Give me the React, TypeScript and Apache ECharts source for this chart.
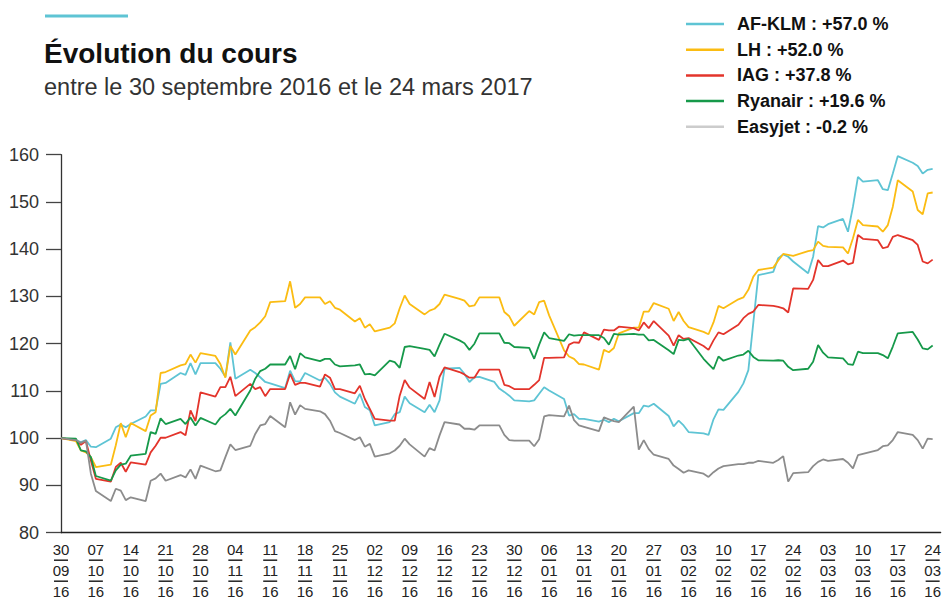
import React, { useEffect, useRef } from 'react';
import * as echarts from 'echarts';

const FONT = '"Liberation Sans", Arial, Helvetica, sans-serif';
const NARROW = '"Liberation Sans Narrow", "Arial Narrow", "Liberation Sans", Arial, sans-serif';

const seriesNames = ['AF-KLM', 'LH', 'IAG', 'Ryanair', 'Easyjet'];
const legendChanges = ['+57.0', '+52.0', '+37.8', '+19.6', '-0.2'];
const lineColors = ['#5ec4d4', '#fbbc12', '#e3342b', '#16994a', '#8c8c8c'];
const legendColors = ['#5ec4d4', '#fbbc12', '#e3342b', '#16994a', '#cccccc'];

const tickDays = ['30', '07', '14', '21', '28', '04', '11', '18', '25', '02', '09', '16', '23', '30', '06', '13', '20', '27', '03', '10', '17', '24', '03', '10', '17', '24'];
const tickMonths = ['09', '10', '10', '10', '10', '11', '11', '11', '11', '12', '12', '12', '12', '12', '01', '01', '01', '01', '02', '02', '02', '02', '03', '03', '03', '03'];
const tickYears = ['16', '16', '16', '16', '16', '16', '16', '16', '16', '16', '16', '16', '16', '16', '16', '16', '16', '16', '16', '16', '16', '16', '16', '16', '16', '16'];

// Index base 100 on 30/09/2016, one value per trading day (Fri 30/09 then Mon..Fri each week)
const afklm = [
  100,
  99.6, 99.2, 99.6, 98.2, 98.1,
  99.9, 102.3, 102.9, 102.3, 103.0,
  104.6, 105.9, 105.9, 111.5, 111.7,
  113.8, 113.4, 115.9, 113.5, 115.9,
  115.9, 114.7, 113.0, 120.3, 112.6,
  114.5, 113.8, 112.9, 111.9, 111.6,
  110.6, 114.3, 112.1, 112.0, 113.8,
  112.2, 112.8, 111.5, 109.7, 108.8,
  107.3, 109.4, 106.6, 105.9, 102.7,
  103.4, 105.1, 105.5, 108.8, 107.4,
  105.5, 107.1, 105.5, 108.0, 114.7,
  114.9, 113.6, 111.9, 112.9, 113.0,
  111.9, 110.5, 109.8, 109.0, 108.0,
  107.8, 108.0, 109.4, 110.8, 110.1,
  108.3, 104.8, 105.1, 104.1, 104.1,
  103.5, 103.9, 103.4, 104.1, 103.6,
  105.3, 105.3, 106.9, 106.7, 107.3,
  104.7, 102.5, 103.7, 102.7, 101.3,
  101.0, 100.7, 104.0, 106.1, 106.0,
  109.8, 111.6, 114.4, 124.5, 134.5,
  135.2, 138.1, 138.9, 138.4, 137.4,
  134.9, 138.4, 144.9, 144.6, 145.3,
  146.4, 143.7, 149.0, 155.3, 154.3,
  154.6, 152.7, 152.5, 156.0, 159.7,
  158.3, 157.6, 156.0, 156.8, 157.0,
];

const lh = [
  100,
  99.4, 97.4, 97.0, 96.0, 93.9,
  94.4, 98.5, 103.2, 100.2, 103.2,
  101.5, 104.8, 105.5, 113.8, 114.0,
  115.4, 115.7, 117.7, 116.0, 118.0,
  117.4, 115.7, 112.8, 119.5, 117.7,
  122.8, 123.5, 124.5, 125.8, 128.8,
  129.0, 133.2, 127.6, 128.4, 129.8,
  129.8, 128.4, 129.0, 127.6, 127.2,
  124.7, 125.4, 123.4, 124.1, 122.6,
  123.4, 124.3, 127.5, 130.2, 128.4,
  126.2, 127.0, 127.4, 128.4, 130.4,
  129.5, 129.1, 127.9, 128.1, 129.8,
  129.8, 129.8, 126.7, 125.8, 123.8,
  126.9, 126.2, 128.8, 129.1, 126.0,
  118.6, 117.3, 116.8, 115.7, 115.6,
  114.5, 118.7, 118.2, 119.1, 122.2,
  123.4, 123.4, 126.8, 126.8, 128.6,
  127.4, 124.8, 126.7, 124.8, 123.5,
  122.5, 122.0, 124.5, 128.0, 127.5,
  129.4, 129.8, 131.4, 134.2, 135.6,
  136.1, 137.6, 139.0, 138.8, 138.6,
  139.6, 139.8, 141.6, 140.7, 140.5,
  140.4, 139.1, 142.3, 146.2, 145.1,
  144.8, 143.7, 145.1, 149.0, 154.6,
  152.2, 148.3, 147.4, 151.8, 152.0,
];

const iag = [
  100,
  99.6, 98.6, 99.4, 95.3, 91.4,
  90.8, 93.9, 94.8, 92.9, 94.9,
  94.4, 97.0, 98.4, 100.1, 100.1,
  101.3, 100.6, 105.9, 103.6, 109.7,
  108.8, 110.8, 110.8, 113.0, 108.9,
  111.5, 110.4, 110.8, 108.9, 110.4,
  110.4, 113.6, 111.3, 111.7, 111.7,
  110.9, 113.5, 112.8, 110.4, 110.4,
  109.5, 111.1, 108.3, 106.2, 104.1,
  103.7, 103.7, 109.0, 112.3, 110.7,
  108.3, 111.9, 108.7, 113.0, 115.0,
  114.0, 113.5, 112.8, 112.8, 114.5,
  114.5, 114.5, 111.3, 111.0, 110.4,
  110.4, 111.3, 112.3, 117.0, 117.0,
  117.1, 119.8, 120.3, 120.2, 122.4,
  120.8, 123.0, 122.8, 122.8, 123.6,
  123.3, 122.8, 124.5, 123.3, 124.8,
  121.7, 119.6, 121.8, 121.0, 121.2,
  119.5, 118.7, 120.7, 122.4, 122.0,
  124.0, 125.4, 126.3, 126.8, 128.2,
  128.0, 127.8, 127.5, 126.6, 131.7,
  131.6, 133.5, 137.7, 136.4, 136.4,
  137.6, 136.8, 137.1, 143.0, 142.2,
  141.9, 140.2, 140.5, 142.6, 143.0,
  141.9, 140.9, 137.4, 137.0, 137.8,
];

const ryanair = [
  100,
  99.9, 97.4, 97.2, 96.0, 92.0,
  91.0, 93.2, 94.4, 94.6, 96.3,
  96.7, 101.3, 100.9, 104.2, 103.0,
  104.1, 103.0, 104.4, 102.7, 104.3,
  102.9, 104.3, 105.1, 106.2, 104.8,
  110.1, 112.6, 114.2, 114.7, 115.6,
  115.6, 117.4, 114.6, 118.0, 117.1,
  116.3, 116.8, 116.8, 115.6, 115.2,
  115.4, 115.6, 113.5, 113.6, 113.3,
  116.4, 116.1, 114.9, 119.3, 119.5,
  118.9, 118.7, 117.3, 119.8, 122.1,
  120.7, 120.1, 118.7, 120.0, 122.2,
  122.2, 122.2, 120.2, 120.1, 119.3,
  119.1, 116.8, 119.8, 122.4, 121.2,
  120.6, 122.0, 121.7, 121.8, 121.8,
  121.8, 121.2, 119.8, 122.1, 121.9,
  122.1, 121.9, 121.9, 120.7, 120.8,
  118.6, 117.8, 120.8, 120.7, 121.0,
  116.8, 115.7, 114.6, 117.3, 116.4,
  117.5, 117.7, 118.5, 117.2, 116.5,
  116.4, 116.5, 116.4, 115.1, 114.4,
  114.7, 116.2, 119.7, 118.1, 117.1,
  116.9, 115.7, 115.5, 118.3, 118.0,
  118.0, 117.6, 116.9, 119.4, 122.2,
  122.5, 120.9, 119.0, 118.8, 119.6,
];

const easyjet = [
  100,
  99.6, 99.0, 99.5, 92.5, 88.8,
  86.7, 89.3, 88.9, 86.9, 87.5,
  86.7, 91.0, 91.5, 92.5, 91.0,
  92.2, 91.7, 93.4, 91.4, 94.2,
  93.0, 93.2, 96.0, 98.7, 97.5,
  98.4, 100.9, 102.7, 103.0, 104.7,
  102.3, 107.6, 105.0, 107.0, 106.2,
  105.7, 105.1, 103.7, 101.5, 101.1,
  99.6, 100.2, 98.2, 98.8, 96.1,
  96.8, 97.4, 98.4, 99.9, 98.7,
  96.1, 97.9, 97.4, 100.6, 103.4,
  102.9, 102.0, 102.0, 101.8, 102.7,
  102.7, 102.7, 100.7, 99.6, 99.5,
  99.5, 98.3, 99.8, 104.6, 104.9,
  104.6, 106.9, 103.8, 102.7, 102.4,
  101.5, 104.4, 104.0, 103.6, 103.4,
  106.7, 97.6, 99.6, 97.7, 96.5,
  95.6, 94.2, 93.5, 92.7, 93.2,
  92.5, 91.8, 92.8, 93.6, 94.1,
  94.5, 94.5, 94.8, 94.8, 95.2,
  94.8, 95.4, 96.2, 90.8, 92.6,
  92.8, 94.1, 95.0, 95.5, 95.2,
  95.6, 94.8, 93.6, 96.4, 96.7,
  97.5, 98.3, 98.5, 99.6, 101.3,
  100.7, 99.6, 97.8, 99.9, 99.8,
];

const seriesValues = [afklm, lh, iag, ryanair, easyjet];

// Calendar: days since Friday 30/09/2016, keeping weekdays only (d % 7: 0 = Fri, 1 = Sat, 2 = Sun)
const LAST_DAY = 175;
function tradingDays(): number[] {
  const out: number[] = [];
  for (let d = 0; d <= LAST_DAY; d++) {
    const wd = d % 7;
    if (wd !== 1 && wd !== 2) out.push(d);
  }
  return out;
}

export default function App() {
  const ref = useRef<HTMLDivElement>(null);

  useEffect(() => {
    document.body.style.margin = '0';
    if (!ref.current) return;
    const chart = echarts.init(ref.current, undefined, { renderer: 'svg' });
    const days = tradingDays();

    const option: any = {
      animation: false,
      backgroundColor: '#ffffff',
      title: {
        text: 'Évolution du cours',
        subtext: 'entre le 30 septembre 2016 et le 24 mars 2017',
        left: 44,
        top: 39,
        padding: 0,
        itemGap: 8,
        textStyle: { fontSize: 28, fontWeight: 'bold', color: '#111111', fontFamily: FONT },
        subtextStyle: { fontSize: 23.5, color: '#333333', fontFamily: FONT },
      },
      graphic: [
        { type: 'rect', left: 45, top: 14.5, shape: { width: 83, height: 3 }, style: { fill: '#5ec4d4' } },
      ],
      legend: {
        orient: 'vertical',
        left: 686,
        top: 14,
        padding: 0,
        icon: 'rect',
        itemWidth: 38,
        itemHeight: 2.5,
        itemGap: 5.7,
        selectedMode: false,
        data: seriesNames,
        formatter: (name: string) => `${name} : ${legendChanges[seriesNames.indexOf(name)]} %`,
        textStyle: {
          fontSize: 18,
          fontWeight: 'bold',
          color: '#111111',
          fontFamily: FONT,
          lineHeight: 20,
          padding: [0, 0, 0, 8],
        },
      },
      grid: { left: 61, right: 0, top: 154.7, bottom: 67.3, containLabel: false },
      xAxis: {
        type: 'value',
        min: 0,
        max: 176.6,
        interval: 7,
        axisLine: { show: true, onZero: false, lineStyle: { color: '#222222', width: 1.3 } },
        axisTick: { show: false },
        splitLine: { show: false },
        axisLabel: {
          margin: 9,
          showMaxLabel: false,
          formatter: (v: number) => {
            const i = Math.round(v / 7);
            if (Math.abs(v - i * 7) > 1e-6 || i < 0 || i >= tickDays.length) return '';
            return `{n|${tickDays[i]}}\n{u|}\n{n|${tickMonths[i]}}\n{u|}\n{n|${tickYears[i]}}`;
          },
          rich: {
            n: { fontSize: 15, lineHeight: 16, color: '#222222', fontFamily: NARROW, align: 'center' },
            u: { width: 14, height: 1.5, lineHeight: 5, backgroundColor: '#222222', align: 'center' },
          },
        },
      },
      yAxis: {
        type: 'value',
        min: 80,
        max: 160,
        interval: 10,
        axisLine: { show: true, lineStyle: { color: '#333333', width: 1.3 } },
        axisTick: { show: true, length: 15, lineStyle: { color: '#444444', width: 1.3 } },
        splitLine: { show: false },
        axisLabel: { margin: 22, fontSize: 18, color: '#333333', fontFamily: FONT },
      },
      series: seriesValues.map((vals, i) => ({
        name: seriesNames[i],
        type: 'line',
        symbol: 'none',
        showSymbol: false,
        data: days.map((d, k) => [d, vals[k]]),
        itemStyle: { color: legendColors[i] },
        lineStyle: { color: lineColors[i], width: 1.8 },
        emphasis: { disabled: true },
        z: 2,
      })),
    };

    chart.setOption(option);
    return () => chart.dispose();
  }, []);

  return <div ref={ref} style={{ width: 944, height: 600 }} />;
}
